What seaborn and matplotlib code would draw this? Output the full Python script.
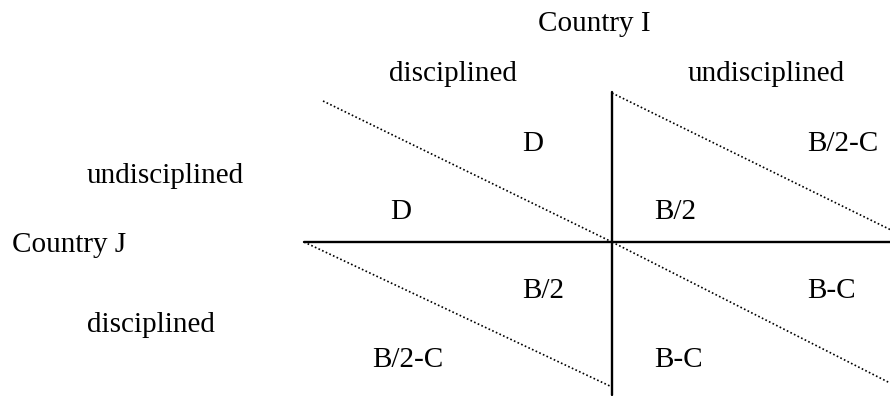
import seaborn as sns
import pandas as pd
import matplotlib
matplotlib.use("Agg")
import matplotlib.pyplot as plt

# players and strategies
row_player = "Country J"
col_player = "Country I"
col_strategies = ["disciplined", "undisciplined"]
row_strategies = ["undisciplined", "disciplined"]

# payoffs per cell: rows = J's strategy, cols = I's strategy
payoff_j = [["D", "B/2"], ["B/2-C", "B-C"]]
payoff_i = [["D", "B/2-C"], ["B/2", "B-C"]]

# layout in pixel units
W, H = 890, 396
cx, cy = 612, 242

sns.set_theme(style="white")
plt.rcParams['font.family'] = ['Liberation Serif', 'DejaVu Serif']

fig = plt.figure(figsize=(8.9, 3.96), dpi=100)
ax = fig.add_axes([0, 0, 1, 1])
ax.set_xlim(0, W)
ax.set_ylim(H, 0)
ax.axis("off")

# main cross
axes_df = pd.DataFrame({"x": [304, W], "y": [cy, cy], "seg": "h"})
vert_df = pd.DataFrame({"x": [cx, cx], "y": [92, 395], "seg": "v"})
sns.lineplot(data=pd.concat([axes_df, vert_df]), x="x", y="y", units="seg",
             estimator=None, color="black", lw=1.7, ax=ax, sort=False)

# diagonals splitting each cell
diags = [((323, 101), (cx, cy)),
         ((cx, 93), (W, 229.5)),
         ((304, cy), (cx, 387)),
         ((cx, cy), (W, 383))]
for (x0, y0), (x1, y1) in diags:
    ax.plot([x0, x1], [y0, y1], color="black", lw=1.2, ls=(0, (1, 1.4)))

fs = 21
ax.text(594, 31, col_player, fontsize=fs, ha="center", va="baseline", color="black")
ax.text(453, 81, col_strategies[0], fontsize=fs, ha="center", va="baseline", color="black")
ax.text(766, 81, col_strategies[1], fontsize=fs, ha="center", va="baseline", color="black")
ax.text(12, 252, row_player, fontsize=fs, ha="left", va="baseline", color="black")
ax.text(87, 183, row_strategies[0], fontsize=fs, ha="left", va="baseline", color="black")
ax.text(87, 332, row_strategies[1], fontsize=fs, ha="left", va="baseline", color="black")

# label anchors per cell (left x, baseline)
cell_i_pos = [[(522, 151), (807, 151)], [(522, 298), (807, 298)]]
cell_j_pos = [[(390, 219), (654, 219)], [(372, 367), (654, 367)]]
for r in range(2):
    for c in range(2):
        xi, yi = cell_i_pos[r][c]
        xj, yj = cell_j_pos[r][c]
        ax.text(xi, yi, payoff_i[r][c], fontsize=fs, ha="left", va="baseline", color="black")
        ax.text(xj, yj, payoff_j[r][c], fontsize=fs, ha="left", va="baseline", color="black")

fig.savefig("out.png", dpi=100, facecolor="white")
